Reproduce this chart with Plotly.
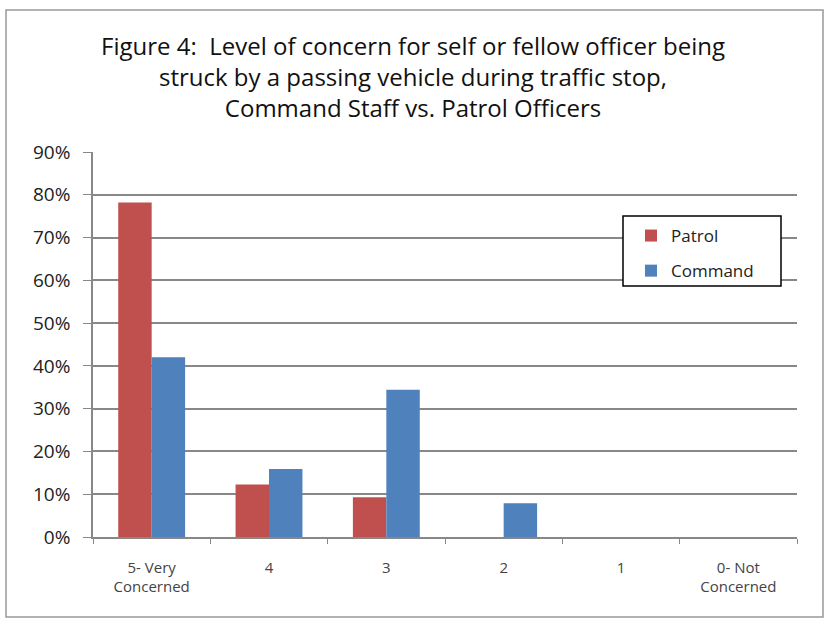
import plotly.graph_objects as go

categories = ["5- Very<br>Concerned", "4", "3", "2", "1", "0- Not<br>Concerned"]
patrol = [0.782, 0.123, 0.093, 0.0, 0.0, 0.0]
command = [0.420, 0.159, 0.344, 0.079, 0.0, 0.0]
y_ticks = [0, 0.1, 0.2, 0.3, 0.4, 0.5, 0.6, 0.7, 0.8, 0.9]
y_labels = ["0%", "10%", "20%", "30%", "40%", "50%", "60%", "70%", "80%", "90%"]

font = "Open Sans, sans-serif"

L, R, T, B = 93, 29, 152, 81
W, H = 826, 618
PW, PH = W - L - R, H - T - B

fig = go.Figure()
fig.add_trace(go.Bar(name="Patrol", x=categories, y=patrol, legendgroup="p",
                     marker=dict(color="#C0504D", line=dict(width=0))))
fig.add_trace(go.Bar(name="Command", x=categories, y=command, legendgroup="c",
                     marker=dict(color="#4F81BD", line=dict(width=0))))

fig.update_layout(
    width=W, height=H,
    paper_bgcolor="white", plot_bgcolor="white",
    margin=dict(l=L, r=R, t=T, b=B, autoexpand=False),
    barmode="group", bargap=0.43, bargroupgap=0,
    font=dict(family=font, color="#222", size=15),
    title=dict(
        text="Figure 4:  Level of concern for self or fellow officer being<br>struck by a passing vehicle during traffic stop,<br>Command Staff vs. Patrol Officers",
        x=0.5, xanchor="center", y=1 - 55 / H, yanchor="top",
        font=dict(family=font, size=24, color="#111"),
    ),
    legend=dict(
        x=(631 - L) / PW, y=(H - B - 218) / PH, xref="paper", yref="paper",
        xanchor="left", yanchor="top",
        borderwidth=0, bgcolor="rgba(0,0,0,0)",
        font=dict(family=font, size=17, color="#222"),
        traceorder="grouped", tracegroupgap=10,
        itemwidth=30,
    ),
    showlegend=True,
)
fig.update_xaxes(
    showline=True, linecolor="#888", linewidth=1.5,
    ticks="outside", tickson="boundaries", ticklen=5, tickcolor="#888",
    tickfont=dict(size=15, color="#444"), ticklabelstandoff=16,
)
fig.update_yaxes(
    range=[0, 0.9], tickvals=y_ticks, ticktext=y_labels,
    showgrid=True, gridcolor="#888888", gridwidth=1.5,
    showline=True, linecolor="#888", linewidth=1.5,
    ticks="outside", ticklen=8, tickcolor="#888",
    tickfont=dict(size=19, color="#222"), zeroline=False, ticklabelstandoff=9,
)
# outer chart frame
fig.add_shape(type="rect", xref="paper", yref="paper",
              x0=(6 - L) / PW, x1=(823 - L) / PW,
              y0=(H - B - 617) / PH, y1=(H - B - 10) / PH,
              line=dict(color="#999", width=1.5), fillcolor="rgba(0,0,0,0)", layer="below")
# legend frame
fig.add_shape(type="rect", xref="paper", yref="paper",
              x0=(623 - L) / PW, x1=(781 - L) / PW,
              y0=(H - B - 286) / PH, y1=(H - B - 216) / PH,
              line=dict(color="black", width=1.5), fillcolor="white", layer="above")
fig.write_html("out.html", config={"displayModeBar": False},
               post_script="document.body.style.margin='0';document.body.style.overflow='hidden';")
